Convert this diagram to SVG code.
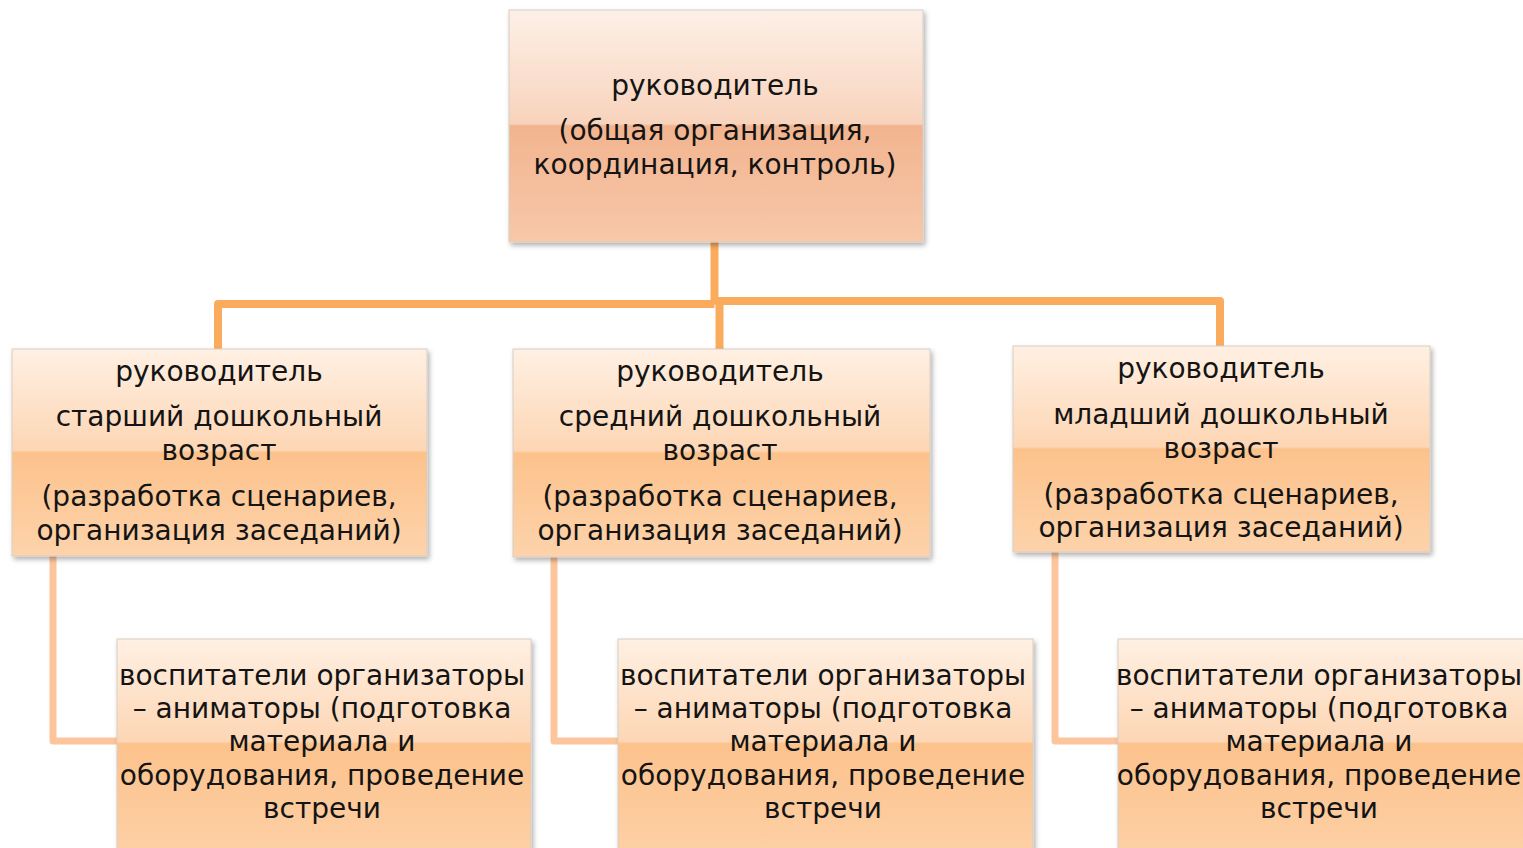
<svg xmlns="http://www.w3.org/2000/svg" width="1523" height="848" viewBox="0 0 1523 848">
  <style>
    .t { font-family: "DejaVu Sans", "Noto Sans", sans-serif; font-size: 28px; fill: #141414; text-anchor: middle; }
    .main { stroke: #fbab5c; stroke-width: 8; fill: none; stroke-linejoin: round; }
    .sub { stroke: #fdc59b; stroke-width: 7; fill: none; stroke-linejoin: round; }
    .box { stroke: #d8cdc3; stroke-width: 1; }
  </style>
  <defs>
    <linearGradient id="gPeach" x1="0" y1="0" x2="0" y2="1">
      <stop offset="0" stop-color="#fdf0e8"/>
      <stop offset="0.49" stop-color="#f8d3bc"/>
      <stop offset="0.5" stop-color="#f2b48f"/>
      <stop offset="1" stop-color="#f7c8a9"/>
    </linearGradient>
    <linearGradient id="gOrange" x1="0" y1="0" x2="0" y2="1">
      <stop offset="0" stop-color="#fff0e3"/>
      <stop offset="0.49" stop-color="#fdd6b4"/>
      <stop offset="0.5" stop-color="#fcc28c"/>
      <stop offset="1" stop-color="#fdd3ab"/>
    </linearGradient>
    <linearGradient id="gOrangeB" x1="0" y1="0" x2="0" y2="1">
      <stop offset="0" stop-color="#fff0e3"/>
      <stop offset="0.475" stop-color="#fdd6b4"/>
      <stop offset="0.485" stop-color="#fcc28c"/>
      <stop offset="1" stop-color="#fdd0a6"/>
    </linearGradient>
    <filter id="sh" x="-5%" y="-5%" width="115%" height="120%">
      <feDropShadow dx="2" dy="3" stdDeviation="2.5" flood-color="#000" flood-opacity="0.3"/>
    </filter>
  </defs>

  <g id="connectors">
    <polyline class="main" points="714.5,242 714.5,304"/>
    <polyline class="main" points="218,349 218,304 714.5,304"/>
    <polyline class="main" points="714.5,301 1220,301 1220,346"/>
    <polyline class="main" points="719.5,301 719.5,349"/>
    <polyline class="sub" points="53,556 53,741 117,741"/>
    <polyline class="sub" points="554,557 554,741 618,741"/>
    <polyline class="sub" points="1055,552 1055,741 1118,741"/>
  </g>

  <g id="top">
    <rect class="box" x="509" y="10" width="414" height="232" fill="url(#gPeach)" filter="url(#sh)"/>
    <text class="t" x="715" y="95">руководитель</text>
    <text class="t" x="715" y="140">(общая организация,</text>
    <text class="t" x="715" y="174">координация, контроль)</text>
  </g>

  <g id="mid-left">
    <rect class="box" x="12" y="349" width="415" height="207" fill="url(#gOrange)" filter="url(#sh)"/>
    <text class="t" x="219" y="381">руководитель</text>
    <text class="t" x="219" y="426">старший дошкольный</text>
    <text class="t" x="219" y="460">возраст</text>
    <text class="t" x="219" y="506">(разработка сценариев,</text>
    <text class="t" x="219" y="540">организация заседаний)</text>
  </g>

  <g id="mid-center">
    <rect class="box" x="513" y="349" width="417" height="208" fill="url(#gOrange)" filter="url(#sh)"/>
    <text class="t" x="720" y="381">руководитель</text>
    <text class="t" x="720" y="426">средний дошкольный</text>
    <text class="t" x="720" y="460">возраст</text>
    <text class="t" x="720" y="506">(разработка сценариев,</text>
    <text class="t" x="720" y="540">организация заседаний)</text>
  </g>

  <g id="mid-right">
    <rect class="box" x="1013" y="346" width="417" height="206" fill="url(#gOrange)" filter="url(#sh)"/>
    <text class="t" x="1221" y="378">руководитель</text>
    <text class="t" x="1221" y="424">младший дошкольный</text>
    <text class="t" x="1221" y="458">возраст</text>
    <text class="t" x="1221" y="504">(разработка сценариев,</text>
    <text class="t" x="1221" y="537">организация заседаний)</text>
  </g>

  <g id="bot-left">
    <rect class="box" x="117" y="639" width="414" height="216" fill="url(#gOrangeB)" filter="url(#sh)"/>
    <text class="t" x="322" y="685">воспитатели организаторы</text>
    <text class="t" x="322" y="718">– аниматоры (подготовка</text>
    <text class="t" x="322" y="751">материала и</text>
    <text class="t" x="322" y="785">оборудования, проведение</text>
    <text class="t" x="322" y="818">встречи</text>
  </g>

  <g id="bot-center">
    <rect class="box" x="618" y="639" width="415" height="216" fill="url(#gOrangeB)" filter="url(#sh)"/>
    <text class="t" x="823" y="685">воспитатели организаторы</text>
    <text class="t" x="823" y="718">– аниматоры (подготовка</text>
    <text class="t" x="823" y="751">материала и</text>
    <text class="t" x="823" y="785">оборудования, проведение</text>
    <text class="t" x="823" y="818">встречи</text>
  </g>

  <g id="bot-right">
    <rect class="box" x="1118" y="639" width="415" height="216" fill="url(#gOrangeB)" filter="url(#sh)"/>
    <text class="t" x="1319" y="685">воспитатели организаторы</text>
    <text class="t" x="1319" y="718">– аниматоры (подготовка</text>
    <text class="t" x="1319" y="751">материала и</text>
    <text class="t" x="1319" y="785">оборудования, проведение</text>
    <text class="t" x="1319" y="818">встречи</text>
  </g>
</svg>
